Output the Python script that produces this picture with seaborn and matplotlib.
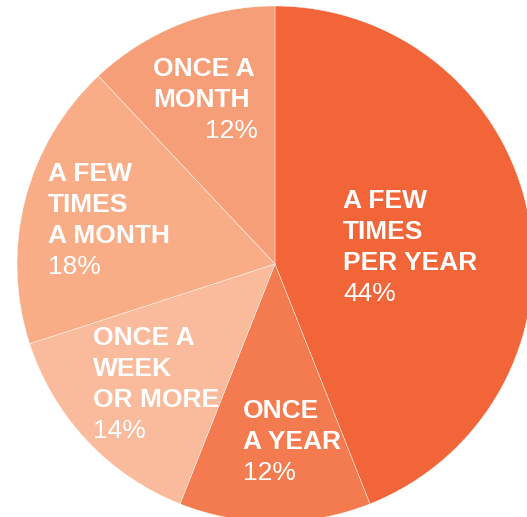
import matplotlib
matplotlib.use("Agg")
import matplotlib.pyplot as plt
import seaborn as sns

sns.set_style("white")
plt.rcParams['font.family'] = ['Liberation Sans', 'DejaVu Sans']

# data
labels = ["A FEW\nTIMES\nPER YEAR", "ONCE\nA YEAR", "ONCE A\nWEEK\nOR MORE",
          "A FEW\nTIMES\nA MONTH", "ONCE A\nMONTH"]
shares = [44, 12, 14, 18, 12]
colors = ["#F26539", "#F37B4F", "#F9BB9B", "#F8AD87", "#F59E77"]

# label placement in pixels: (left x, first baseline y, x of percent line)
label_pos = [(343, 208, 343), (243, 418, 243), (93, 345, 93), (48, 181, 48), (153, 76, 205)]
line_step = 31

W, H = 527, 517
cx, cy, R = 275, 264, 258  # pie centre / radius in pixels

fig = plt.figure(figsize=(W / 100, H / 100), dpi=100)
ax = fig.add_axes([0, 0, 1, 1])
ax.pie(shares, colors=colors, startangle=90, counterclock=False,
       wedgeprops=dict(edgecolor="white", linewidth=0.3))
ax.set_xlim(-cx / R, (W - cx) / R)
ax.set_ylim(-(H - cy) / R, cy / R)
ax.set_aspect("equal")
ax.axis("off")


def to_data(px, py):
    return (px - cx) / R, (cy - py) / R


for lab, val, (lx, ly, px) in zip(labels, shares, label_pos):
    lines = lab.split("\n")
    for i, line in enumerate(lines):
        x, y = to_data(lx, ly + i * line_step)
        ax.text(x, y, line, color="white", fontsize=19, fontweight="bold",
                ha="left", va="baseline")
    x, y = to_data(px, ly + len(lines) * line_step)
    ax.text(x, y, f"{val}%", color="white", fontsize=19, ha="left", va="baseline")

plt.savefig("out.png", dpi=100)
